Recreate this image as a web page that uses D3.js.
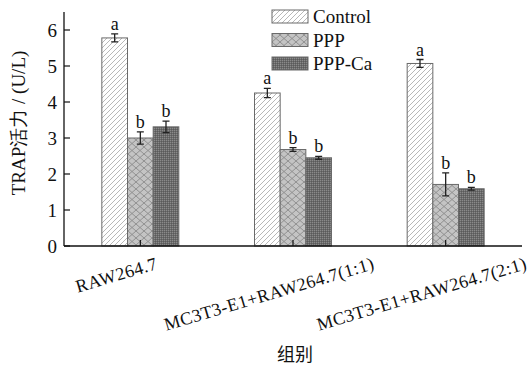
<!DOCTYPE html>
<html>
<head>
<meta charset="utf-8">
<script src="https://cdn.jsdelivr.net/npm/d3@7"></script>
<style>
  body { margin: 0; background: #fff; }
</style>
</head>
<body>
<svg id="chart" width="530" height="369"></svg>
<script>
const groups = ["RAW264.7", "MC3T3-E1+RAW264.7(1:1)", "MC3T3-E1+RAW264.7(2:1)"];
const seriesNames = ["Control", "PPP", "PPP-Ca"];
const controlVals = [5.78, 4.25, 5.07];
const pppVals = [3.00, 2.68, 1.71];
const pppCaVals = [3.31, 2.45, 1.59];
const controlErr = [0.11, 0.13, 0.11];
const pppErr = [0.17, 0.05, 0.32];
const pppCaErr = [0.16, 0.04, 0.04];
const letters = [["a", "b", "b"], ["a", "b", "b"], ["a", "b", "b"]];
const yTicks = [0, 1, 2, 3, 4, 5, 6];

const SERIF = "Liberation Serif";
const svg = d3.select("#chart");
const margin = { left: 64, right: 8, top: 12, bottom: 123 };
const W = 530, H = 369;
const x0 = margin.left, x1 = W - margin.right;
const yBase = H - margin.bottom;

// patterns
const defs = svg.append("defs");
const pCtrl = defs.append("pattern").attr("id", "pCtrl")
  .attr("patternUnits", "userSpaceOnUse").attr("width", 5).attr("height", 5);
pCtrl.append("rect").attr("width", 5).attr("height", 5).attr("fill", "#fff");
pCtrl.append("path").attr("d", "M-1,6 L6,-1 M-1,1 L1,-1 M4,6 L6,4")
  .attr("stroke", "#b0b0b0").attr("stroke-width", 0.9);

const pPPP = defs.append("pattern").attr("id", "pPPP")
  .attr("patternUnits", "userSpaceOnUse").attr("width", 8).attr("height", 7);
pPPP.append("rect").attr("width", 8).attr("height", 7).attr("fill", "#c4c4c4");
pPPP.append("path").attr("d", "M0,0 L8,7 M8,0 L0,7")
  .attr("stroke", "#8a8a8a").attr("stroke-width", 0.9);

const pCa = defs.append("pattern").attr("id", "pCa")
  .attr("patternUnits", "userSpaceOnUse").attr("width", 2).attr("height", 2);
pCa.append("rect").attr("width", 2).attr("height", 2).attr("fill", "#6a6a6a");
pCa.append("rect").attr("width", 1).attr("height", 1).attr("fill", "#8a8a8a");
pCa.append("rect").attr("x", 1).attr("y", 1).attr("width", 1).attr("height", 1).attr("fill", "#5a5a5a");

const fills = ["url(#pCtrl)", "url(#pPPP)", "url(#pCa)"];

const x = d3.scaleBand().domain(groups).range([x0, x1]);
const xs = d3.scaleBand().domain(seriesNames).range([0, 77]);
const y = d3.scaleLinear().domain([0, 6.5]).range([yBase, margin.top]);

const series = [
  { name: seriesNames[0], vals: controlVals, err: controlErr },
  { name: seriesNames[1], vals: pppVals, err: pppErr },
  { name: seriesNames[2], vals: pppCaVals, err: pppCaErr }
];

function label(sel, size) {
  return sel.style("font-family", SERIF).style("font-size", size + "px").attr("fill", "#111");
}

// bars
series.forEach((s, si) => {
  const g = svg.append("g");
  groups.forEach((gName, gi) => {
    const bx = x(gName) + x.bandwidth() / 2 - 38.5 + xs(s.name);
    const v = s.vals[gi], e = s.err[gi];
    g.append("rect")
      .attr("x", bx).attr("y", y(v))
      .attr("width", xs.bandwidth()).attr("height", yBase - y(v))
      .attr("fill", fills[si]).attr("stroke", "#6a6a6a").attr("stroke-width", 1);
    const cx = bx + xs.bandwidth() / 2;
    g.append("path")
      .attr("d", `M${cx - 3.5},${y(v + e)}H${cx + 3.5}M${cx},${y(v + e)}V${y(v - e)}M${cx - 3.5},${y(v - e)}H${cx + 3.5}`)
      .attr("stroke", "#222").attr("stroke-width", 1.3).attr("fill", "none");
    label(g.append("text"), 18)
      .attr("x", cx).attr("y", y(v + e) - 4)
      .attr("text-anchor", "middle")
      .text(letters[gi][si]);
  });
});

// axes
const axisG = svg.append("g");
axisG.append("line").attr("x1", x0).attr("x2", x0).attr("y1", margin.top).attr("y2", yBase)
  .attr("stroke", "#111").attr("stroke-width", 1.3);
axisG.append("line").attr("x1", x0).attr("x2", x1).attr("y1", yBase).attr("y2", yBase)
  .attr("stroke", "#111").attr("stroke-width", 1.3);

yTicks.forEach(t => {
  axisG.append("line").attr("x1", x0).attr("x2", x0 + 6).attr("y1", y(t)).attr("y2", y(t))
    .attr("stroke", "#111").attr("stroke-width", 1.2);
  label(axisG.append("text"), 19).attr("x", x0 - 7).attr("y", y(t)).attr("dy", "0.35em")
    .attr("text-anchor", "end").text(t);
});

groups.forEach(gName => {
  const cx = x(gName) + x.bandwidth() / 2;
  axisG.append("line").attr("x1", cx).attr("x2", cx).attr("y1", yBase).attr("y2", yBase - 6)
    .attr("stroke", "#111").attr("stroke-width", 1.2);
});

// rotated category labels
const ang = -16.5;
const rad = Math.abs(ang) * Math.PI / 180;
groups.forEach(gName => {
  const cx = x(gName) + x.bandwidth() / 2;
  const t = label(axisG.append("text"), 18).attr("text-anchor", "middle")
    .style("letter-spacing", "0.4px").text(gName);
  const w = t.node().getComputedTextLength();
  const h = 14;
  const bh = w * Math.sin(rad) + h * Math.cos(rad);
  const cy = yBase + 10 + bh / 2;
  t.attr("transform", `translate(${cx - 24},${cy}) rotate(${ang})`).attr("dy", "0.35em");
});

// axis titles
label(svg.append("text"), 19).attr("transform", `translate(25,123) rotate(-90)`)
  .attr("text-anchor", "middle")
  .text("TRAP活力 / (U/L)");
svg.append("text").attr("x", 295).attr("y", 361)
  .attr("text-anchor", "middle").style("font-size", "18px").attr("fill", "#111")
  .style("font-family", "Noto Sans CJK SC").text("组别");

// legend
const leg = svg.append("g");
seriesNames.forEach((n, i) => {
  const ly = 10 + i * 23.5;
  leg.append("rect").attr("x", 272).attr("y", ly).attr("width", 36).attr("height", 13)
    .attr("fill", fills[i]).attr("stroke", "#6a6a6a").attr("stroke-width", 1);
  label(leg.append("text"), 19).attr("x", 313).attr("y", ly + 6.5).attr("dy", "0.35em")
    .text(n);
});
</script>
</body>
</html>
